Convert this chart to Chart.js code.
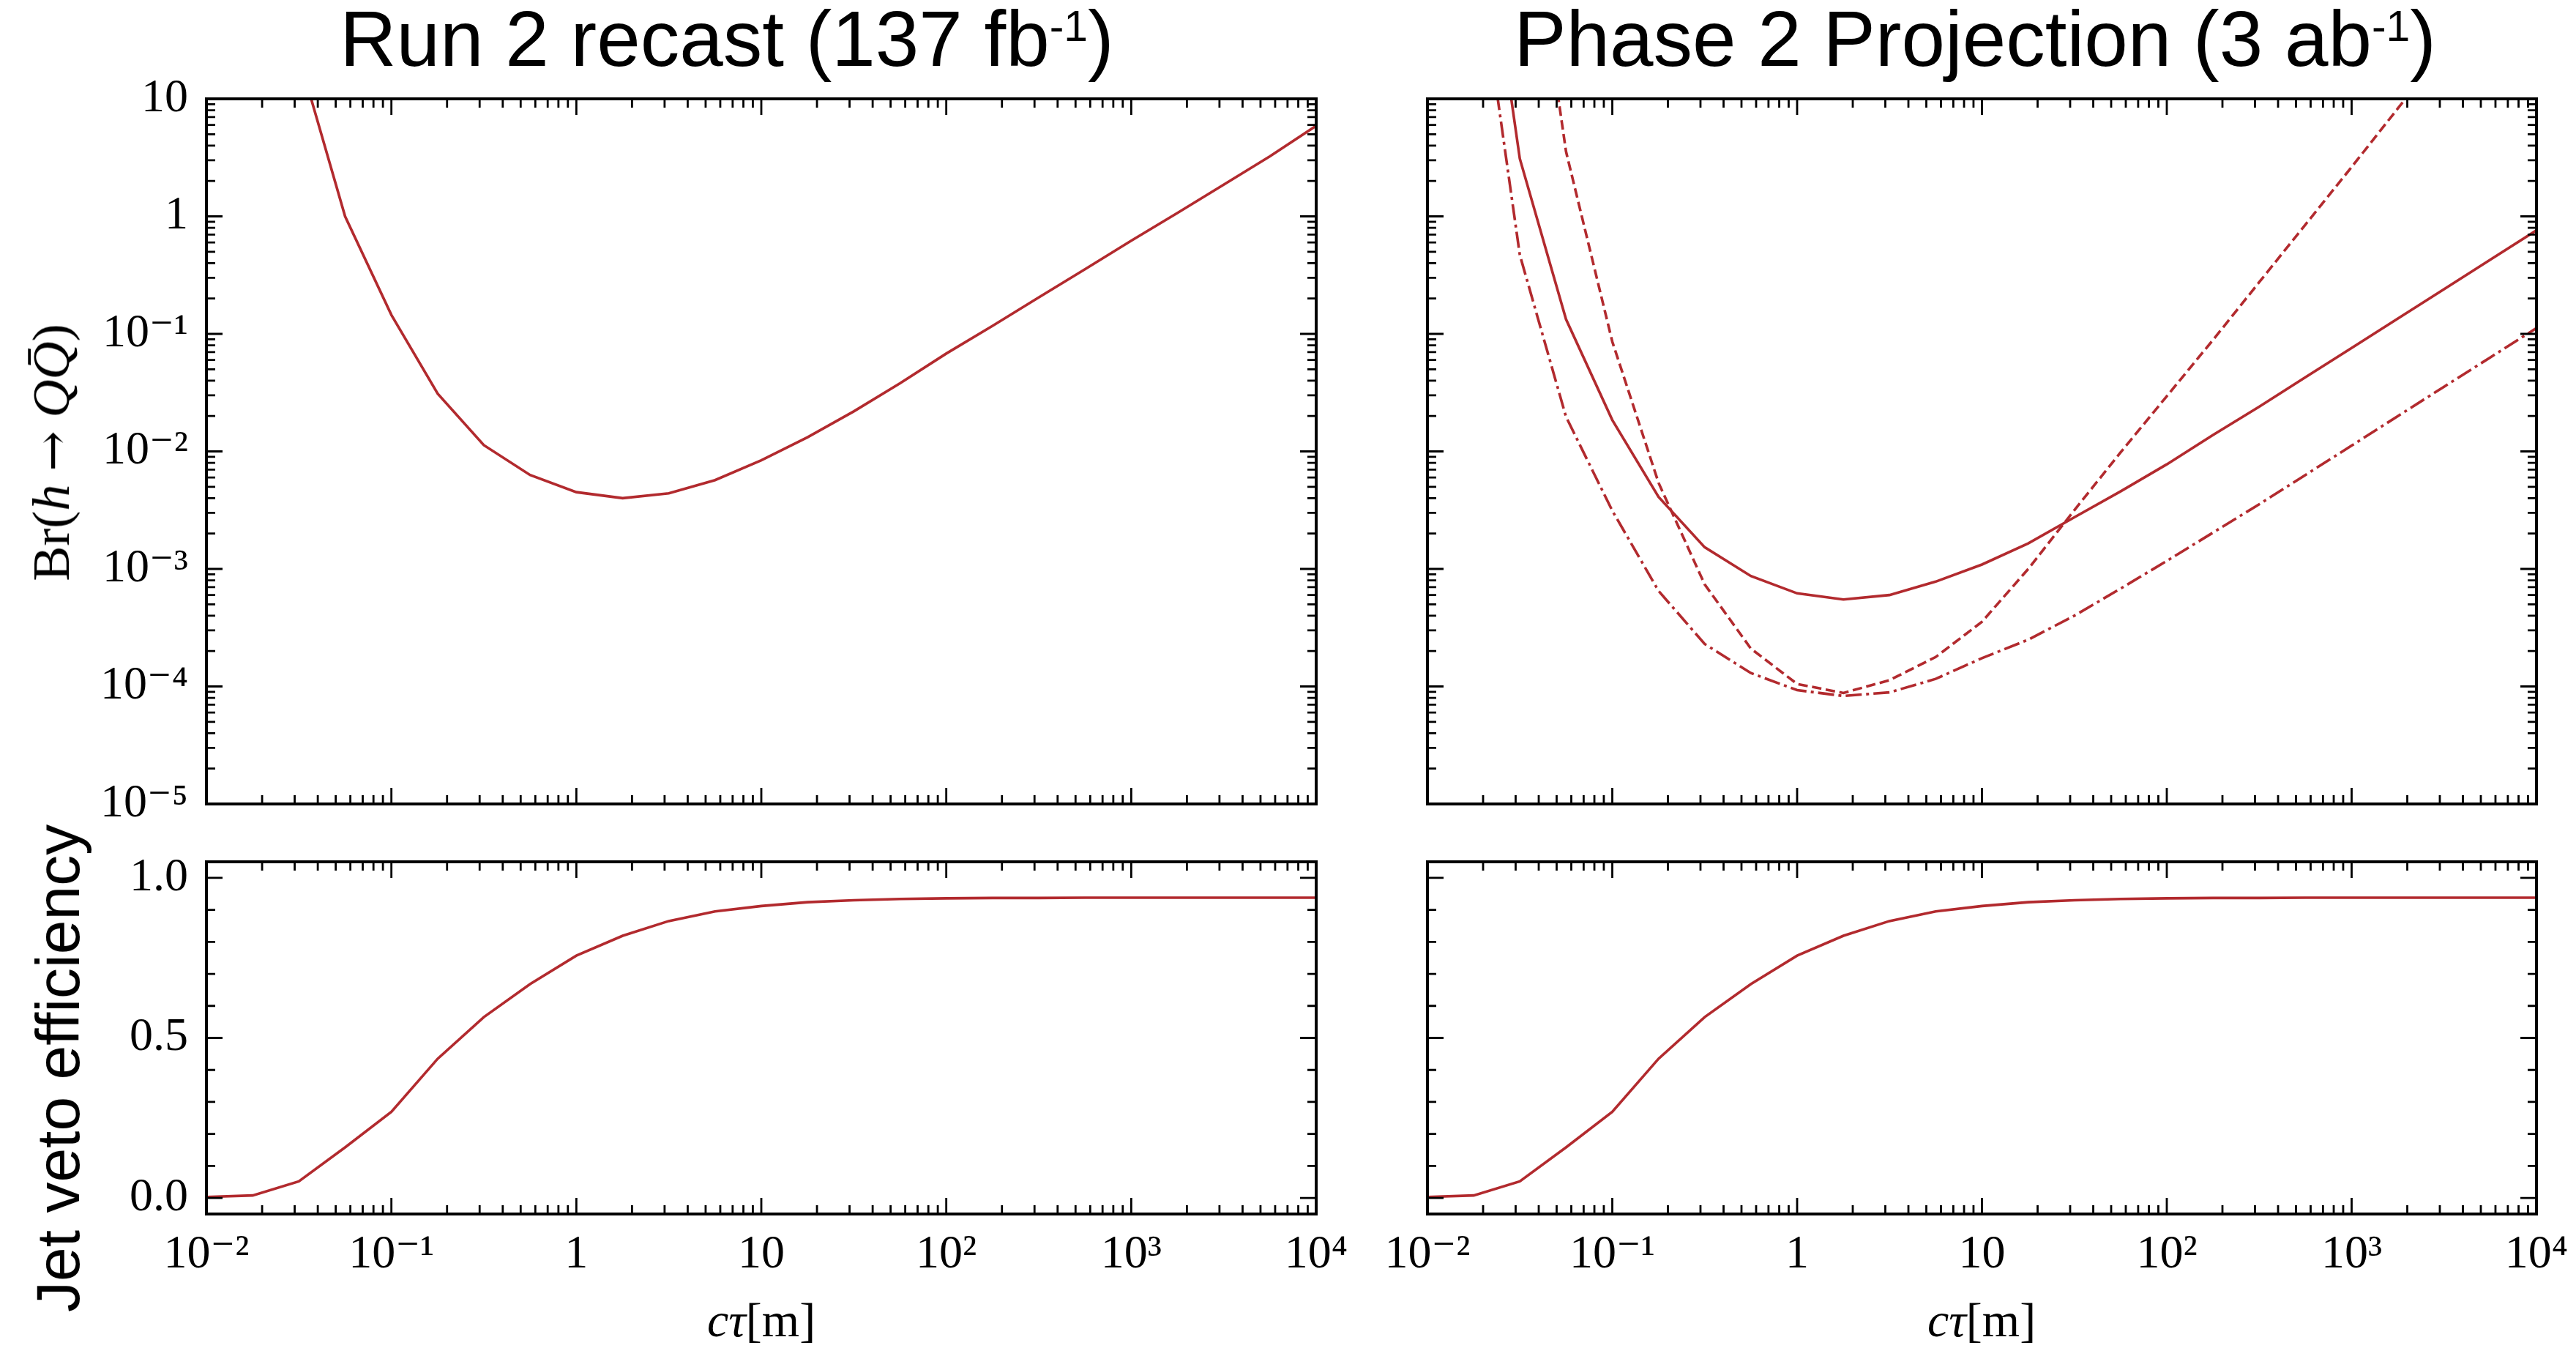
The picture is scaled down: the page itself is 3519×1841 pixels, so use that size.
<!DOCTYPE html>
<html>
<head>
<meta charset="utf-8">
<script src="https://cdn.jsdelivr.net/npm/chart.js@4.4.1/dist/chart.umd.min.js"></script>
<style>
  html, body { margin: 0; padding: 0; background: #fff; }
  body { width: 3519px; height: 1841px; position: relative; overflow: hidden; }
  canvas { position: absolute; left: 0; top: 0; }
  .txt { position: absolute; white-space: nowrap; color: #000; line-height: 1; }
  .title { font-family: "Liberation Sans", Arial, sans-serif; font-size: 107px; transform: translateX(-50%); }
  .title sup { font-size: 55%; vertical-align: 0.58em; line-height: 0; }
  .serif { font-family: "Liberation Serif", "DejaVu Serif", serif; font-size: 66px; }
  .ylab { font-size: 72px; }
  .arrow { font-family: "DejaVu Serif", serif; font-size: 66px; }
  .rot { transform: translate(-50%, -50%) rotate(-90deg); }
  .sans { font-family: "Liberation Sans", Arial, sans-serif; font-size: 84px; }
</style>
</head>
<body>
<canvas id="runTop" width="3519" height="1841"></canvas>
<canvas id="runBot" width="3519" height="1841"></canvas>
<canvas id="phTop" width="3519" height="1841"></canvas>
<canvas id="phBot" width="3519" height="1841"></canvas>

<div class="txt title" style="left:993px; top:0px;">Run 2 recast (137 fb<sup>-1</sup>)</div>
<div class="txt title" style="left:2698px; top:0px;">Phase 2 Projection (3 ab<sup>-1</sup>)</div>
<div class="txt serif ylab rot" style="left:70px; top:618px;">Br(<i>h</i> <span class="arrow">→</span> <i>Q</i><i>Q&#x0304;</i>)</div>
<div class="txt sans rot" style="left:79px; top:1459px;">Jet veto efficiency</div>
<div class="txt serif" style="left:1040px; top:1770px; transform: translateX(-50%);"><i>cτ</i>[m]</div>
<div class="txt serif" style="left:2707px; top:1770px; transform: translateX(-50%);"><i>cτ</i>[m]</div>

<script>
// lifetime grid (m), 4 points per decade
const ctau = [0.01, 0.0178, 0.0316, 0.0562, 0.1, 0.178, 0.316, 0.562, 1, 1.78, 3.16, 5.62,
              10, 17.8, 31.6, 56.2, 100, 178, 316, 562, 1000, 1780, 3160, 5620, 10000];

// Br(h -> QQbar) limits
const brRun2 = [null, null, 23, 1.0, 0.145, 0.031, 0.0113, 0.0063, 0.0045, 0.0040, 0.0044, 0.0057,
                0.0084, 0.0132, 0.0219, 0.038, 0.068, 0.117, 0.204, 0.355, 0.62, 1.07, 1.86, 3.24, 5.9];
const brPh2Solid = [null, 1700, 3.1, 0.133, 0.0185, 0.0041, 0.00153, 0.00087, 0.00062, 0.00055, 0.00060, 0.00078,
                    0.00109, 0.00165, 0.00275, 0.00457, 0.00776, 0.0138, 0.024, 0.0427, 0.0759, 0.135, 0.24, 0.427, 0.76];
const brPh2Dashed = [null, null, 1900, 3.56, 0.086, 0.0054, 0.00074, 0.00021, 0.000105, 0.000088, 0.000113, 0.000178,
                     0.000355, 0.00100, 0.00316, 0.0098, 0.0295, 0.089, 0.275, 0.85, 2.63, 8.3, 25.7, null, null];
const brPh2DashDot = [null, 280, 0.47, 0.0197, 0.00313, 0.00065, 0.00023, 0.00013, 0.000093, 0.000083, 0.000089, 0.000116,
                      0.000174, 0.00025, 0.00040, 0.00068, 0.00117, 0.00204, 0.00355, 0.0063, 0.0112, 0.020, 0.0355, 0.063, 0.112];

// jet veto efficiency (same in both columns)
const vetoEff = [0.003, 0.008, 0.052, 0.158, 0.269, 0.435, 0.565, 0.668, 0.757, 0.819, 0.865, 0.895,
                 0.912, 0.924, 0.930, 0.934, 0.936, 0.937, 0.937, 0.938, 0.938, 0.938, 0.938, 0.938, 0.938];

// ticks
const xTicks = [0.01, 0.1, 1, 10, 100, 1000, 10000];
const xTickLabels = ['10⁻²', '10⁻¹', '1', '10', '10²', '10³', '10⁴'];
const brTicks = [1e-5, 1e-4, 1e-3, 1e-2, 1e-1, 1, 10];
const brTickLabels = ['10⁻⁵', '10⁻⁴', '10⁻³', '10⁻²', '10⁻¹', '1', '10'];
const effTicks = [0, 0.5, 1.0];
const effTickLabels = ['0.0', '0.5', '1.0'];
const effMinor = [0.1, 0.2, 0.3, 0.4, 0.6, 0.7, 0.8, 0.9];

const RED = '#b22a2e';
const INK = '#000';
const W = 3519, H = 1841;
const MAJ = 22, MIN = 12;
const tickFont = { family: '"Liberation Serif", "DejaVu Serif", serif', size: 64 };

function logMinor(majors) {
  const out = [];
  for (let i = 0; i < majors.length - 1; i++)
    for (let k = 2; k <= 9; k++) out.push(majors[i] * k);
  return out;
}

// matplotlib style frame with inward ticks on all four sides
const axisFrame = {
  id: 'axisFrame',
  afterDatasetsDraw(chart, args, o) {
    const { ctx, chartArea: a } = chart;
    const x = chart.scales.x, y = chart.scales.y;
    ctx.save();
    ctx.strokeStyle = INK;
    ctx.lineWidth = 2.8;
    ctx.beginPath();
    const vt = (vals, len) => vals.forEach(v => {
      const p = x.getPixelForValue(v);
      ctx.moveTo(p, a.bottom); ctx.lineTo(p, a.bottom - len);
      ctx.moveTo(p, a.top); ctx.lineTo(p, a.top + len);
    });
    const ht = (vals, len) => vals.forEach(v => {
      const p = y.getPixelForValue(v);
      ctx.moveTo(a.left, p); ctx.lineTo(a.left + len, p);
      ctx.moveTo(a.right, p); ctx.lineTo(a.right - len, p);
    });
    vt(o.xMajor, MAJ); vt(o.xMinor, MIN);
    ht(o.yMajor, MAJ); ht(o.yMinor, MIN);
    ctx.stroke();
    ctx.lineWidth = 4;
    ctx.strokeRect(a.left, a.top, a.right - a.left, a.bottom - a.top);
    ctx.restore();
  }
};

function series(vals, dash) {
  return {
    data: ctau.map((c, i) => ({ x: c, y: vals[i] })),
    borderColor: RED,
    borderWidth: 3.6,
    borderDash: dash || [],
    pointRadius: 0,
    tension: 0,
    fill: false
  };
}

function panel(id, box, datasets, cfg) {
  const yw = cfg.yLabels ? 200 : 0;
  const xh = cfg.xLabels ? 110 : 0;
  new Chart(document.getElementById(id), {
    type: 'line',
    data: { datasets },
    options: {
      responsive: false, animation: false, devicePixelRatio: 1,
      layout: { padding: { left: box.left - yw, top: box.top, right: W - box.right, bottom: H - box.bottom - xh } },
      plugins: {
        legend: { display: false }, tooltip: { enabled: false },
        axisFrame: { xMajor: xTicks, xMinor: logMinor(xTicks), yMajor: cfg.yTicks, yMinor: cfg.yMinor }
      },
      scales: {
        x: {
          type: 'logarithmic', min: 0.01, max: 10000,
          grid: { display: false }, border: { display: false },
          afterBuildTicks: s => { s.ticks = xTicks.map(v => ({ value: v })); },
          afterFit: s => { s.height = xh; },
          ticks: { display: cfg.xLabels, autoSkip: false, maxRotation: 0, padding: 10,
                   color: INK, font: tickFont, callback: (v, i) => xTickLabels[i] }
        },
        y: {
          type: cfg.yType, min: cfg.yMin, max: cfg.yMax,
          grid: { display: false }, border: { display: false },
          afterBuildTicks: s => { s.ticks = cfg.yTicks.map(v => ({ value: v })); },
          afterFit: s => { s.width = yw; },
          ticks: { display: cfg.yLabels, autoSkip: false, padding: 17,
                   color: INK, font: tickFont, callback: (v, i) => cfg.yTickLabels[i] }
        }
      }
    },
    plugins: [axisFrame]
  });
}

const topCfg = { yType: 'logarithmic', yMin: 1e-5, yMax: 10, yTicks: brTicks, yTickLabels: brTickLabels, yMinor: logMinor(brTicks) };
const botCfg = { yType: 'linear', yMin: -0.05, yMax: 1.05, yTicks: effTicks, yTickLabels: effTickLabels, yMinor: effMinor };

const leftBox = { left: 282, right: 1798 };
const rightBox = { left: 1950, right: 3465 };

panel('runTop', { ...leftBox, top: 135, bottom: 1098 }, [series(brRun2)],
      { ...topCfg, yLabels: true, xLabels: false });
panel('runBot', { ...leftBox, top: 1177, bottom: 1658 }, [series(vetoEff)],
      { ...botCfg, yLabels: true, xLabels: true });
panel('phTop', { ...rightBox, top: 135, bottom: 1098 },
      [series(brPh2Solid), series(brPh2Dashed, [13, 6]), series(brPh2DashDot, [22, 6, 4, 6])],
      { ...topCfg, yLabels: false, xLabels: false });
panel('phBot', { ...rightBox, top: 1177, bottom: 1658 }, [series(vetoEff)],
      { ...botCfg, yLabels: false, xLabels: true });
</script>
</body>
</html>
